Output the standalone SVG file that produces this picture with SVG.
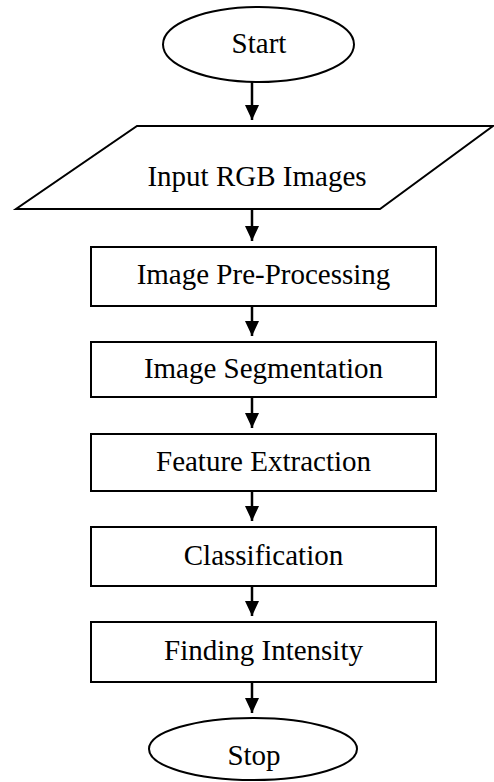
<svg xmlns="http://www.w3.org/2000/svg" width="494" height="782" viewBox="0 0 494 782">
<style>
.s{fill:#fff;stroke:#000;stroke-width:2}
.t{font-family:"Liberation Serif","Times New Roman",serif;font-size:29px;fill:#000;text-anchor:middle}
.c{stroke:#000;stroke-width:2.5;fill:none}
</style>
<defs>
<marker id="arr" viewBox="0 0 15 14" refX="15" refY="7" markerWidth="15" markerHeight="14" markerUnits="userSpaceOnUse" orient="auto">
<path d="M0,0 L15,7 L0,14 z" fill="#000"/>
</marker>
</defs>
<rect width="494" height="782" fill="#fff"/>
<g id="connectors">
<path class="c" d="M252,82 V120" marker-end="url(#arr)"/>
<path class="c" d="M252,209 V241" marker-end="url(#arr)"/>
<path class="c" d="M252,306 V336" marker-end="url(#arr)"/>
<path class="c" d="M252,397 V428" marker-end="url(#arr)"/>
<path class="c" d="M252,491 V521" marker-end="url(#arr)"/>
<path class="c" d="M252,586 V616" marker-end="url(#arr)"/>
<path class="c" d="M252,682 V713" marker-end="url(#arr)"/>
</g>
<g id="start">
<ellipse class="s" cx="258.5" cy="44.5" rx="95.5" ry="37.5"/>
<text class="t" x="259" y="53">Start</text>
</g>
<g id="input">
<polygon class="s" points="137,126 493,126 380,209 16,209"/>
<text class="t" x="257" y="186">Input RGB Images</text>
</g>
<g id="preprocessing">
<rect class="s" x="91" y="247" width="345" height="59"/>
<text class="t" x="263.5" y="284">Image Pre-Processing</text>
</g>
<g id="segmentation">
<rect class="s" x="91" y="342" width="345" height="55"/>
<text class="t" x="263.5" y="378">Image Segmentation</text>
</g>
<g id="feature">
<rect class="s" x="91" y="434" width="345" height="57"/>
<text class="t" x="263.5" y="471">Feature Extraction</text>
</g>
<g id="classification">
<rect class="s" x="91" y="527" width="345" height="59"/>
<text class="t" x="263.5" y="565">Classification</text>
</g>
<g id="intensity">
<rect class="s" x="91" y="622" width="345" height="60"/>
<text class="t" x="263.5" y="660">Finding Intensity</text>
</g>
<g id="stop">
<ellipse class="s" cx="253" cy="749" rx="104" ry="31"/>
<text class="t" x="254" y="765">Stop</text>
</g>
</svg>
